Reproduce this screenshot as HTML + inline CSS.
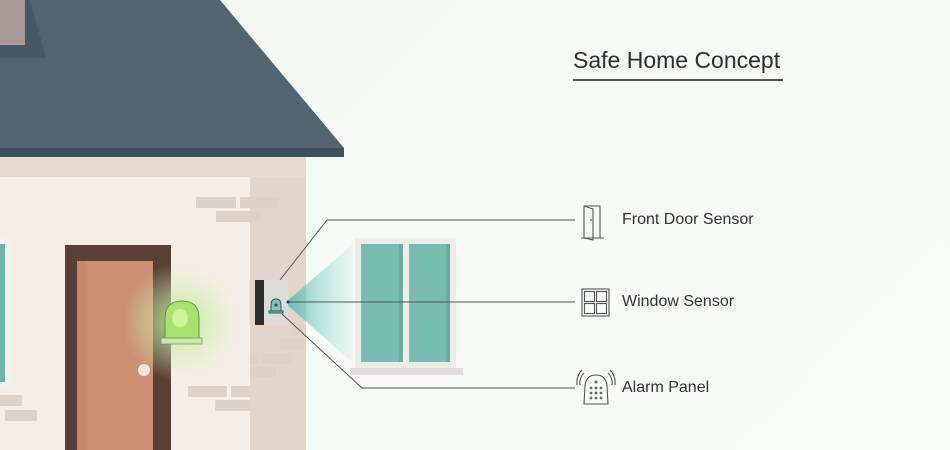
<!DOCTYPE html>
<html><head><meta charset="utf-8"><style>
body{margin:0;width:950px;height:450px;overflow:hidden;background:linear-gradient(135deg,#f3f8f3 0%,#f6faf6 50%,#f9fbf9 100%);font-family:"Liberation Sans",sans-serif}
svg{position:absolute;left:0;top:0}
</style></head><body>
<svg width="950" height="450" viewBox="0 0 950 450">
<defs>
<radialGradient id="glow" cx="0.5" cy="0.5" r="0.5">
<stop offset="0" stop-color="#b8f08a" stop-opacity="0.95"/>
<stop offset="0.5" stop-color="#c8f0a8" stop-opacity="0.5"/>
<stop offset="1" stop-color="#d8f0c0" stop-opacity="0"/>
</radialGradient>
<linearGradient id="beam" x1="0" x2="1" y1="0" y2="0">
<stop offset="0" stop-color="#3fb7a8" stop-opacity="0.95"/>
<stop offset="1" stop-color="#a8e0d6" stop-opacity="0.2"/>
</linearGradient>
</defs>
<rect x="0" y="157" width="306" height="293" fill="#f7ede7"/>
<rect x="250" y="157" width="56" height="293" fill="#e2d6cc"/>
<rect x="0" y="157" width="306" height="20" fill="#e6dad1"/>
<g fill="#ddd1c8">
<rect x="196" y="197" width="40" height="11"/><rect x="240" y="197" width="39" height="11"/>
<rect x="216" y="211" width="44" height="11"/>
<rect x="292" y="325" width="14" height="10"/><rect x="280" y="339" width="26" height="11"/>
<rect x="250" y="353" width="8" height="11"/><rect x="262" y="353" width="30" height="11"/>
<rect x="250" y="367" width="26" height="10"/>
<rect x="188" y="386" width="39" height="11"/><rect x="231" y="386" width="19" height="11"/>
<rect x="215" y="400" width="35" height="11"/>
<rect x="0" y="395" width="22" height="11"/><rect x="5" y="410" width="32" height="11"/>
</g>
<rect x="0" y="237" width="12" height="150" fill="#f3f1ee"/>
<rect x="0" y="244" width="5" height="138" fill="#6fb4aa"/>
<polygon points="0,0 220,0 344,148 344,157 0,157" fill="#4f6672"/>
<rect x="0" y="148" width="344" height="9" fill="#3e525d"/>
<polygon points="0,45 25,45 25,0 30,0 46,58 0,58" fill="#435965"/>
<rect x="0" y="0" width="25" height="45" fill="#a79a96"/>
<rect x="65" y="245" width="106" height="205" fill="#5a3f36"/>
<rect x="77" y="261" width="76" height="189" fill="#c98f70"/>
<rect x="77" y="261" width="9" height="189" fill="#c48a6b"/>
<circle cx="144" cy="370" r="6" fill="#ede4dc"/>
<circle cx="182" cy="322" r="60" fill="url(#glow)"/>
<path d="M165,340 L165,318 Q165,301 182,301 Q199,301 199,318 L199,340 Z" fill="#a8e26e" stroke="#5a7a4a" stroke-width="0.8"/>
<ellipse cx="180" cy="318" rx="8" ry="9" fill="#d6f7a8" opacity="0.8"/>
<rect x="161" y="338" width="41" height="6" fill="#c8eaa8" stroke="#6f8a66" stroke-width="0.7"/>
<rect x="355" y="238" width="101" height="130" fill="#eeece9"/>
<rect x="361" y="244" width="42" height="118" fill="#79bdb2"/>
<rect x="409" y="244" width="41" height="118" fill="#79bdb2"/>
<rect x="399" y="244" width="4" height="118" fill="#69aca1"/>
<rect x="446" y="244" width="4" height="118" fill="#69aca1"/>
<rect x="350" y="368" width="113" height="7" fill="#e3dcd6"/>
<polygon points="285,303 352,245 352,362" fill="url(#beam)" opacity="0.85"/>
<rect x="255" y="280" width="11" height="45" fill="#2d2d2d"/>
<rect x="264" y="280" width="24" height="45" fill="#dcdcd8"/>
<g stroke="#2c5a60" stroke-width="1" fill="#7fc4c0">
<path d="M271,311 L271,305 Q271,299 276,299 Q281,299 281,305 L281,311 Z"/>
<rect x="269" y="311" width="14" height="2"/>
</g>
<circle cx="276" cy="305" r="1.6" fill="#2c5a60"/>
<g stroke="#555" stroke-width="1" fill="none">
<polyline points="280,280 327,220 575,220"/>
<line x1="288" y1="302" x2="575" y2="302"/>
<polyline points="282,314 362,388 575,388"/>
</g>
<circle cx="288" cy="302" r="1.5" fill="#333"/>
<text x="573" y="68" font-size="23" fill="#2e2e2e">Safe Home Concept</text>
<rect x="573" y="79" width="210" height="2" fill="#555"/>
<g stroke="#555" stroke-width="1.1" fill="none">
<path d="M584,238 L584,206 L600,206 L600,238"/>
<path d="M584,206 L593,209 L593,240 L584,238"/>
<line x1="581" y1="238" x2="604" y2="238"/>
<rect x="582" y="289" width="27" height="27"/>
<rect x="584.5" y="291.5" width="10" height="10"/><rect x="596.5" y="291.5" width="10" height="10"/>
<rect x="584.5" y="303.5" width="10" height="10"/><rect x="596.5" y="303.5" width="10" height="10"/>
<path d="M584,404 L585,386 Q586,375 596,375 Q606,375 607,386 L608,404 Z"/>
<path d="M580,385 Q579,378 584,373 M577,385 Q576,376 582,370 M612,385 Q613,378 608,373 M615,385 Q616,376 610,370"/>
</g>
<circle cx="591" cy="220" r="0.9" fill="#555"/>
<g fill="#666">
<circle cx="596" cy="382" r="1.5"/>
<circle cx="591" cy="388" r="1.4"/><circle cx="596" cy="388" r="1.4"/><circle cx="601" cy="388" r="1.4"/>
<circle cx="591" cy="393" r="1.4"/><circle cx="596" cy="393" r="1.4"/><circle cx="601" cy="393" r="1.4"/>
<circle cx="591" cy="398" r="1.4"/><circle cx="596" cy="398" r="1.4"/><circle cx="601" cy="398" r="1.4"/>
</g>
<g font-size="16" fill="#333">
<text x="622" y="224">Front Door Sensor</text>
<text x="622" y="306">Window Sensor</text>
<text x="622" y="392">Alarm Panel</text>
</g>
</svg>
</body></html>
